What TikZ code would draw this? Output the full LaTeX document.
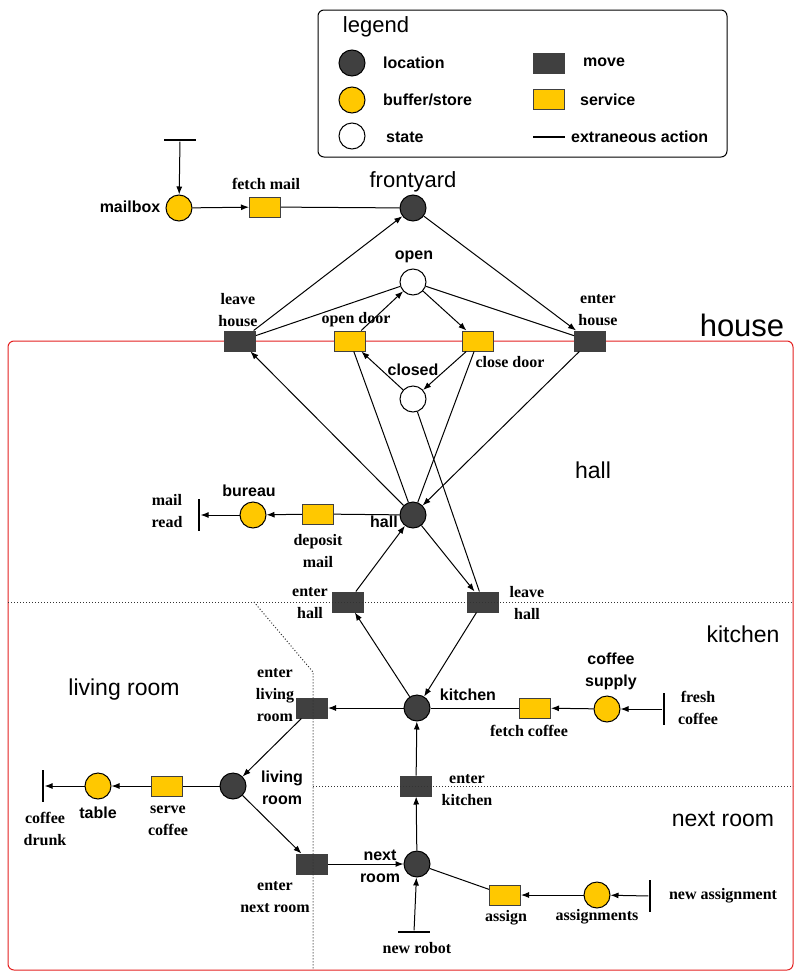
\documentclass[tikz,border=0pt]{standalone}
\usepackage{fontspec}
\setmainfont{Liberation Serif}
\setsansfont{Liberation Sans}
\usetikzlibrary{arrows.meta}

\definecolor{locgray}{RGB}{64,64,64}
\definecolor{storeyellow}{RGB}{255,200,0}
\definecolor{housered}{RGB}{228,32,32}

\begin{document}
\begin{tikzpicture}[x=1pt, y=-1pt,
	place/.style={circle, draw=black, line width=1pt, minimum size=26pt, inner sep=0pt},
	location/.style={place, fill=locgray},
	store/.style={place, fill=storeyellow},
	state/.style={place, fill=white},
	trans/.style={rectangle, draw=black!75, line width=1pt, minimum width=31pt, minimum height=20pt, inner sep=0pt},
	move/.style={trans, fill=locgray},
	service/.style={trans, fill=storeyellow},
	vbar/.style={fill=black, minimum width=2.8pt, minimum height=32pt, inner sep=0pt},
	hbar/.style={fill=black, minimum width=32pt, minimum height=2.8pt, inner sep=0pt},
	arc/.style={line width=1pt, -{Latex[length=8pt,width=6pt]}},
	read/.style={line width=1pt},
	tag/.style={font=\sffamily\bfseries\fontsize{16}{22}\selectfont, align=center, inner sep=0pt},
	note/.style={font=\bfseries\fontsize{16}{22}\selectfont, align=center, inner sep=0pt},
	room/.style={font=\sffamily\fontsize{23}{26}\selectfont, inner sep=0pt},
	border/.style={black!80, dotted, line width=1pt}]
	\useasboundingbox (0,0) rectangle (795,972);

	% House outline
	\draw[housered, line width=1pt, rounded corners=6pt] (8,341) rectangle (793,970);
	\node[room, font=\sffamily\fontsize{31}{34}\selectfont] (house) at (742,325) {house};
	\node[room] (hall-r) at (593,470) {hall};
	\node[room] (kitchen-r) at (743,634) {kitchen};
	\node[room] (living-r) at (124,690) {living room};
	\node[room] (next-r) at (723,819) {next room};

	% Legend
	\draw[line width=1pt, rounded corners=6pt] (318,10) rectangle (727,157);
	\node[room, font=\sffamily\fontsize{22}{24}\selectfont] (lg) at (376,27) {legend};
	\node[location] (lg-loc) at (352,63) {};
	\node[store] (lg-store) at (352,100) {};
	\node[state] (lg-state) at (352,136) {};
	\node[move] (lg-move) at (549,63) {};
	\node[service] (lg-serv) at (549,99) {};
	\node[hbar] (lg-bar) at (549,137) {};
	\node[tag, anchor=west] (lg-loc-t) at (383,63) {location};
	\node[tag, anchor=west] (lg-store-t) at (383,100) {buffer/store};
	\node[tag, anchor=west] (lg-state-t) at (386,137) {state};
	\node[tag, anchor=west] (lg-move-t) at (583,62) {move};
	\node[tag, anchor=west] (lg-serv-t) at (580,100) {service};
	\node[tag, anchor=west] (lg-bar-t) at (571,137) {extraneous action};

	% Frontyard and door
	\node[hbar] (mailbar) at (180,140) {};
	\node[store] (mailbox) at (179,208) {};
	\node[service] (fetchmail) at (265,207) {};
	\node[location] (frontyard) at (413,208) {};
	\node[state] (open) at (413,282) {};
	\node[state] (closed) at (413,399) {};
	\node[move] (leavehouse) at (240,341) {};
	\node[service] (opendoor) at (350,341) {};
	\node[service] (closedoor) at (478,341) {};
	\node[move] (enterhouse) at (590,341) {};

	\node[tag] (mailbox-t) at (130,207) {mailbox};
	\node[note] (fetchmail-t) at (266,184) {fetch mail};
	\node[room, font=\sffamily\fontsize{22}{24}\selectfont] (frontyard-t) at (413,182) {frontyard};
	\node[tag] (open-t) at (414,257) {open};
	\node[tag] (closed-t) at (413,370) {closed};
	\node[note] (leavehouse-t) at (238,310) {leave\\house};
	\node[note] (opendoor-t) at (356,320) {open door};
	\node[note] (closedoor-t) at (510,362) {close door};
	\node[note] (enterhouse-t) at (598,310) {enter\\house};

	% Hall
	\node[location] (hall) at (413,515) {};
	\node[service] (deposit) at (318,514) {};
	\node[store] (bureau) at (253,515) {};
	\node[vbar] (mailread) at (199,515) {};
	\node[move] (enterhall) at (348,602) {};
	\node[move] (leavehall) at (483,602) {};

	\node[tag] (hall-t) at (384,522) {hall};
	\node[tag] (bureau-t) at (249,491) {bureau};
	\node[note] (mailread-t) at (167,511) {mail\\read};
	\node[note] (deposit-t) at (318,551) {deposit\\mail};
	\node[note] (enterhall-t) at (310,603) {enter\\hall};
	\node[note] (leavehall-t) at (527,603) {leave\\hall};

	% Kitchen
	\node[location] (kitchen) at (417,708) {};
	\node[service] (fetchcoffee) at (535,708) {};
	\node[store] (supply) at (607,709) {};
	\node[vbar] (freshbar) at (664,709) {};
	\node[move] (enterkitchen) at (416,786) {};

	\node[tag] (kitchen-t) at (468,695) {kitchen};
	\node[tag] (supply-t) at (611,671) {coffee\\supply};
	\node[note] (fresh-t) at (698,708) {fresh\\coffee};
	\node[note] (fetchcoffee-t) at (529,731) {fetch coffee};
	\node[note] (enterkitchen-t) at (467,790) {enter\\kitchen};

	% Living room
	\node[move] (enterliving) at (312,708) {};
	\node[location] (living) at (233,786) {};
	\node[service] (serve) at (167,786) {};
	\node[store] (table) at (98,786) {};
	\node[vbar] (drunkbar) at (43,786) {};

	\node[note] (enterliving-t) at (275,695) {enter\\living\\room};
	\node[tag] (living-t) at (282,788) {living\\room};
	\node[note] (serve-t) at (168,821) {serve\\coffee};
	\node[tag] (table-t) at (98,813) {table};
	\node[note] (drunk-t) at (45,829) {coffee\\drunk};

	% Next room
	\node[move] (enternext) at (312,864) {};
	\node[location] (next) at (417,864) {};
	\node[service] (assign) at (505,895) {};
	\node[store] (assignments) at (597,895) {};
	\node[vbar] (assignbar) at (650,896) {};
	\node[hbar] (robotbar) at (414,932) {};

	\node[note] (enternext-t) at (275,897) {enter\\next room};
	\node[tag] (next-t) at (380,866) {next\\room};
	\node[note] (assign-t) at (506,918) {assign};
	\node[note] (assignments-t) at (597,917) {assignments};
	\node[note] (newassign-t) at (723,896) {new assignment};
	\node[note] (newrobot-t) at (417,948) {new robot};

	% Arcs
	\draw[arc] (mailbar) -- (mailbox);
	\draw[arc] (mailbox) -- (fetchmail);
	\draw[read] (fetchmail) -- (frontyard);
	\draw[arc] (leavehouse) -- (frontyard);
	\draw[arc] (frontyard) -- (enterhouse);
	\draw[read] (leavehouse) -- (open);
	\draw[read] (open) -- (enterhouse);
	\draw[arc] (opendoor) -- (open);
	\draw[arc] (open) -- (closedoor);
	\draw[arc] (closed) -- (opendoor);
	\draw[arc] (closedoor) -- (closed);
	\draw[arc] (hall) -- (leavehouse);
	\draw[arc] (enterhouse) -- (hall);
	\draw[read] (opendoor) -- (hall);
	\draw[read] (closedoor) -- (hall);
	\draw[read] (closed) -- (leavehall);

	\draw[read] (hall) -- (deposit);
	\draw[arc] (deposit) -- (bureau);
	\draw[arc] (bureau) -- (mailread);
	\draw[arc] (enterhall) -- (hall);
	\draw[arc] (hall) -- (leavehall);
	\draw[arc] (kitchen) -- (enterhall);
	\draw[arc] (leavehall) -- (kitchen);

	\draw[read] (kitchen) -- (fetchcoffee);
	\draw[arc] (supply) -- (fetchcoffee);
	\draw[arc] (freshbar) -- (supply);
	\draw[arc] (kitchen) -- (enterliving);
	\draw[arc] (enterkitchen) -- (kitchen);

	\draw[arc] (enterliving) -- (living);
	\draw[read] (living) -- (serve);
	\draw[arc] (serve) -- (table);
	\draw[arc] (table) -- (drunkbar);
	\draw[arc] (living) -- (enternext);

	\draw[arc] (enternext) -- (next);
	\draw[arc] (next) -- (enterkitchen);
	\draw[arc] (robotbar) -- (next);
	\draw[read] (next) -- (assign);
	\draw[arc] (assignments) -- (assign);
	\draw[arc] (assignbar) -- (assignments);

	% Room borders
	\draw[border] (8,602) -- (793,602);
	\draw[border] (254,602) -- (313,672) -- (313,970);
	\draw[border] (313,786) -- (793,786);
\end{tikzpicture}
\end{document}
